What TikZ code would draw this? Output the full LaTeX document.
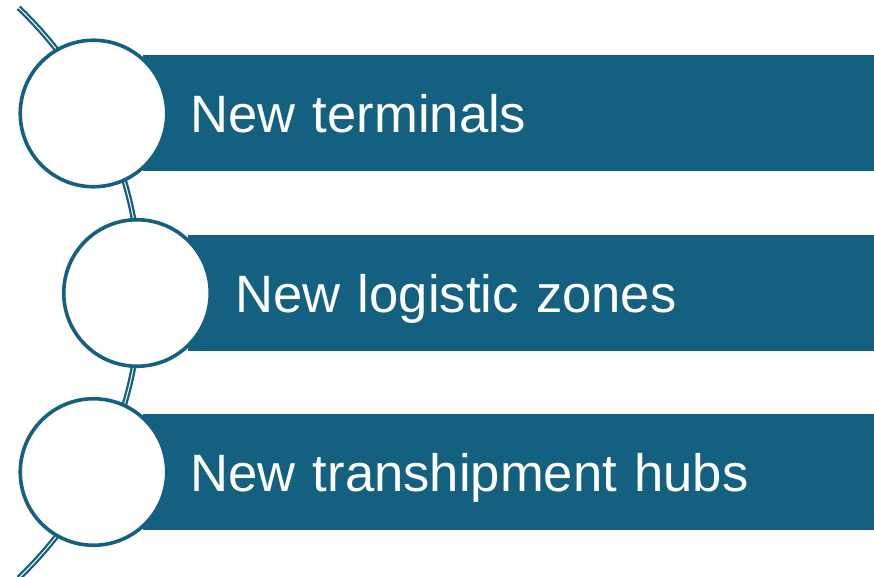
\documentclass[tikz,border=0pt]{standalone}
\usepackage{fontspec}
\setmainfont{Liberation Sans}
\usepackage{tikz}
\usetikzlibrary{positioning}
\definecolor{portblue}{RGB}{20,96,128}
\tikzset{bar/.style={fill=portblue,text=white,anchor=west,inner xsep=47pt,inner ysep=0pt,minimum height=116pt,align=left,text height=38pt,text depth=0pt,font=\fontsize{52.6}{60}\selectfont}}
\tikzset{disc/.style={draw=portblue,line width=3.6pt,fill=white,circle,inner sep=0pt,minimum size=146.5pt}}
\tikzset{spine/.style={draw=portblue,line width=2.3pt,double=white,double distance=1pt}}

\begin{document}
\begin{tikzpicture}[%
		x = 1pt, y = -1pt, % one unit per pixel, downwards
		]
		\useasboundingbox (0,0) rectangle (874,577);
		
		% Backbone
		\coordinate (top) at (18.6,7.7);
		\draw[spine] (top) arc[start angle=46.3, end angle=-46.3, radius=394.5pt];
		
		% Bars
		\node[bar, text width=637pt] (b1) at (143,113.5) {New terminals};
		\node[bar, text width=592pt] (b2) at (188,293) {New logistic zones};
		\node[bar, text width=637pt] (b3) at (143,472) {New transhipment hubs};
		
		% Circles
		\node[disc] (c1) at (93.5,113.5) {};
		\node[disc] (c2) at (137,293) {};
		\node[disc] (c3) at (93.5,472) {};
\end{tikzpicture}
\end{document}
